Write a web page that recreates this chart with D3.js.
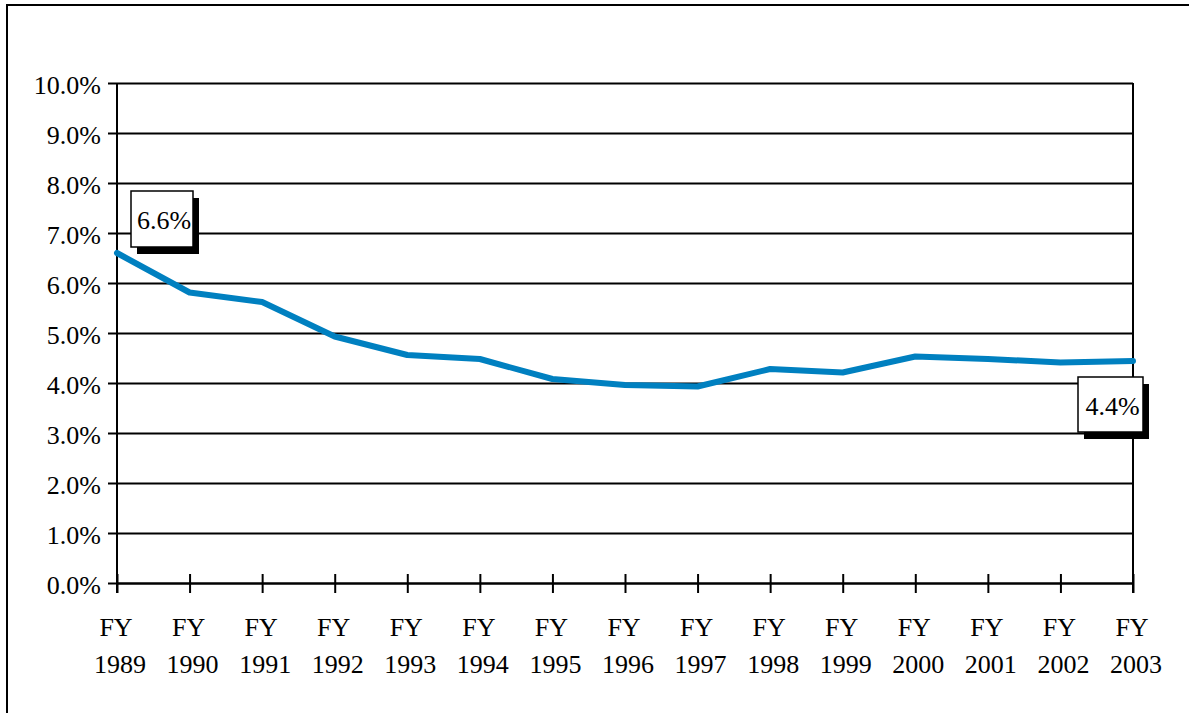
<!DOCTYPE html>
<html>
<head>
<meta charset="utf-8">
<script src="https://cdn.jsdelivr.net/npm/d3@7"></script>
<style>
  html, body { margin: 0; padding: 0; background: #fff; }
  svg { display: block; }
  text { font-family: "Liberation Serif", "Times New Roman", serif; fill: #000; }
</style>
</head>
<body>
<svg id="chart" width="1189" height="713"></svg>
<script>
const categories = ["1989","1990","1991","1992","1993","1994","1995","1996","1997","1998","1999","2000","2001","2002","2003"];
const values = [6.6, 5.81, 5.62, 4.93, 4.56, 4.48, 4.08, 3.96, 3.93, 4.28, 4.21, 4.53, 4.48, 4.41, 4.44];
const yTicks = [0,1,2,3,4,5,6,7,8,9,10];
const labelIndex = [0, 14];
const labelText = ["6.6%", "4.4%"];

(function () {
const svg = d3.select("#chart");
const pL = 117, pR = 1133, pT = 83, pB = 583;

// outer frame (top and left visible; extends beyond right/bottom)
svg.append("rect").attr("x", 7).attr("y", 5).attr("width", 1200).attr("height", 800)
  .attr("fill", "none").attr("stroke", "#000").attr("stroke-width", 2);

const x = d3.scalePoint().domain(categories).range([pL, pR]).padding(0);
const y = d3.scaleLinear().domain([0, 10]).range([pB, pT]);

// gridlines + y ticks
const yAxis = d3.axisLeft(y).tickValues(yTicks).tickSize(9)
  .tickFormat(d => d.toFixed(1) + "%");
const gy = svg.append("g").attr("transform", `translate(${pL},0)`).call(yAxis);
gy.select(".domain").remove();
gy.selectAll(".tick line").attr("stroke", "#000").attr("stroke-width", 2)
  .attr("x1", pR - pL).attr("x2", -9);
gy.selectAll(".tick text").attr("x", -16).attr("dy", null).attr("y", 10.5)
  .style("font-size", "26px").style("font-family", "'Liberation Serif', serif").attr("fill", "#000");

// left axis and right border
svg.append("line").attr("x1", pL).attr("x2", pL).attr("y1", pT).attr("y2", pB + 10)
  .attr("stroke", "#000").attr("stroke-width", 2);
svg.append("line").attr("x1", pR).attr("x2", pR).attr("y1", pT).attr("y2", pB + 10)
  .attr("stroke", "#000").attr("stroke-width", 2);

// x axis ticks
const xAxis = d3.axisBottom(x).tickSizeInner(10).tickSizeOuter(0).tickFormat("");
const gx = svg.append("g").attr("transform", `translate(0,${pB})`).call(xAxis);
gx.select(".domain").attr("stroke", "#000").attr("stroke-width", 2);
gx.selectAll(".tick line").attr("stroke", "#000").attr("stroke-width", 2).attr("y1", -9).attr("y2", 10);

// x labels
const xl = svg.append("g");
categories.forEach(c => {
  xl.append("text").attr("x", x(c) - 1).attr("y", 636).attr("text-anchor", "middle")
    .style("font-size", "26px").text("FY");
  xl.append("text").attr("x", x(c) + 3).attr("y", 673).attr("text-anchor", "middle")
    .style("font-size", "26px").text(c);
});

// line
const line = d3.line().x((d, i) => x(categories[i])).y(d => y(d));
svg.append("path").datum(values).attr("d", line)
  .attr("fill", "none").attr("stroke", "#0080C0").attr("stroke-width", 6)
  .attr("stroke-linejoin", "round").attr("stroke-linecap", "round");

// data label boxes
const boxes = [
  { dx: 14, dy: -62, w: 62, h: 56 },
  { dx: -55, dy: 16, w: 65, h: 55 }
];
labelIndex.forEach((idx, k) => {
  const px = x(categories[idx]), py = y(values[idx]);
  const b = boxes[k];
  const bx = px + b.dx, by = py + b.dy;
  svg.append("rect").attr("x", bx + 6).attr("y", by + 7).attr("width", b.w).attr("height", b.h)
    .attr("fill", "#000");
  svg.append("rect").attr("x", bx).attr("y", by).attr("width", b.w).attr("height", b.h)
    .attr("fill", "#fff").attr("stroke", "#000").attr("stroke-width", 1.5);
  svg.append("text").attr("x", bx + b.w / 2 + 2).attr("y", by + 37.5).attr("text-anchor", "middle")
    .style("font-size", "26px").text(labelText[k]);
});
})();
</script>
</body>
</html>
